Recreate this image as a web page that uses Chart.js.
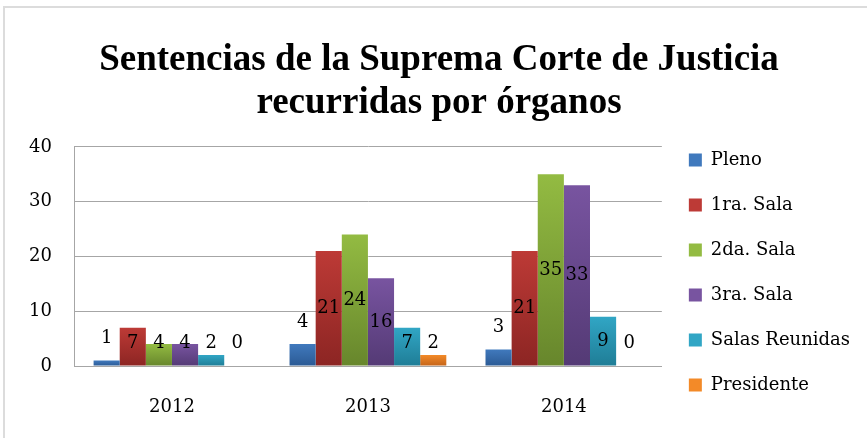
<!DOCTYPE html>
<html>
<head>
<meta charset="utf-8">
<script src="https://cdn.jsdelivr.net/npm/chart.js@4.4.1/dist/chart.umd.min.js"></script>
<style>
  html, body { margin: 0; padding: 0; background: #fff; }
  #wrap { position: relative; width: 867px; height: 438px; overflow: hidden; }
  #frame { position: absolute; left: 3px; top: 6px; width: 900px; height: 500px;
           border: 2px solid #dcdcdc; box-sizing: border-box; }
  canvas { position: absolute; left: 0; top: 0; }
</style>
</head>
<body>
<div id="wrap">
  <div id="frame"></div>
  <canvas id="c" width="867" height="438"></canvas>
</div>
<script>
/* global Chart */

// --- data ---
const years      = ['2012', '2013', '2014'];
const pleno      = [1, 4, 3];
const primera    = [7, 21, 21];
const segunda    = [4, 24, 35];
const tercera    = [4, 16, 33];
const reunidas   = [2, 7, 9];
const presidente = [0, 2, 0];
const yTicks     = [0, 10, 20, 30, 40];

const TITLE_FONT = "'Liberation Serif', 'Times New Roman', serif";
const FONT = "'DejaVu Serif', serif";

// top / bottom gradient stops, Excel 2007 style
const palette = [
  ['#4079bd', '#2b5a94'],
  ['#bd3a36', '#8c2523'],
  ['#93bb42', '#67862c'],
  ['#7854a0', '#543a75'],
  ['#31a6c5', '#1f7d96'],
  ['#f38a28', '#c4641a'],
];

function barFill(idx) {
  return (ctx) => {
    const chart = ctx.chart;
    const [c1, c2] = palette[idx];
    if (!chart.chartArea || ctx.type !== 'data') return c1;
    const y = chart.scales.y;
    const top = y.getPixelForValue(ctx.raw);
    const base = y.getPixelForValue(0);
    if (!isFinite(top) || base - top < 1) return c1;
    const g = chart.ctx.createLinearGradient(0, top, 0, base);
    g.addColorStop(0, c1);
    g.addColorStop(1, c2);
    return g;
  };
}

const series = [
  ['Pleno', pleno],
  ['1ra. Sala', primera],
  ['2da. Sala', segunda],
  ['3ra. Sala', tercera],
  ['Salas Reunidas', reunidas],
  ['Presidente', presidente],
];

// Excel-ish label placement: Pleno above the bar, others centred but kept off the axis
const valueLabels = {
  id: 'valueLabels',
  afterDatasetsDraw(chart) {
    const ctx = chart.ctx;
    const y = chart.scales.y;
    const zero = y.getPixelForValue(0);
    ctx.save();
    ctx.font = `18px ${FONT}`;
    ctx.fillStyle = '#000';
    ctx.textAlign = 'center';
    ctx.textBaseline = 'middle';
    chart.data.datasets.forEach((ds, di) => {
      chart.getDatasetMeta(di).data.forEach((bar, i) => {
        const v = ds.data[i];
        const top = y.getPixelForValue(v);
        let ly;
        if (di === 0) ly = top - 22;
        else ly = Math.min((top + zero) / 2, zero - 23);
        ctx.fillText(String(v), bar.x, ly);
      });
    });
    ctx.restore();
  },
};

new Chart(document.getElementById('c'), {
  type: 'bar',
  data: {
    labels: years,
    datasets: series.map(([label, data], i) => ({
      label,
      data,
      backgroundColor: barFill(i),
      borderWidth: 0,
      categoryPercentage: 0.8,
      barPercentage: 1.0,
    })),
  },
  options: {
    responsive: false,
    animation: false,
    layout: { padding: { left: 18, right: 7, top: 0, bottom: 0 } },
    plugins: {
      title: {
        display: true,
        text: ['Sentencias de la Suprema Corte de Justicia', 'recurridas por órganos'],
        color: '#000',
        font: { family: TITLE_FONT, size: 37, weight: 'bold', lineHeight: 1.16 },
        padding: { top: 39, bottom: 22 },
      },
      legend: {
        position: 'right',
        align: 'start',
        // blank legend title only pushes the items down below the chart title
        title: { display: true, text: ' ', font: { size: 10, lineHeight: 1.2 }, padding: { top: 0, bottom: 112 } },
        labels: {
          color: '#000',
          font: { family: FONT, size: 18 },
          boxWidth: 13,
          boxHeight: 13,
          padding: 27,
          generateLabels: (chart) => chart.data.datasets.map((ds, i) => ({
            text: ds.label,
            fillStyle: palette[i][0],
            strokeStyle: palette[i][0],
            fontColor: '#000',
            lineWidth: 0,
            datasetIndex: i,
          })),
        },
      },
      tooltip: { enabled: false },
    },
    scales: {
      x: {
        afterFit: (axis) => { axis.height = 72; },
        grid: { display: false },
        border: { color: '#a6a6a6', width: 1 },
        ticks: { color: '#000', font: { family: FONT, size: 18 }, padding: 23 },
      },
      y: {
        min: 0,
        max: 40,
        afterBuildTicks: (axis) => { axis.ticks = yTicks.map((v) => ({ value: v })); },
        afterFit: (axis) => { axis.width = 56; },
        grid: { color: '#a6a6a6', drawTicks: false },
        border: { color: '#a6a6a6', width: 1 },
        ticks: { color: '#000', font: { family: FONT, size: 18 }, padding: 22 },
      },
    },
  },
  plugins: [valueLabels],
});
</script>
</body>
</html>
